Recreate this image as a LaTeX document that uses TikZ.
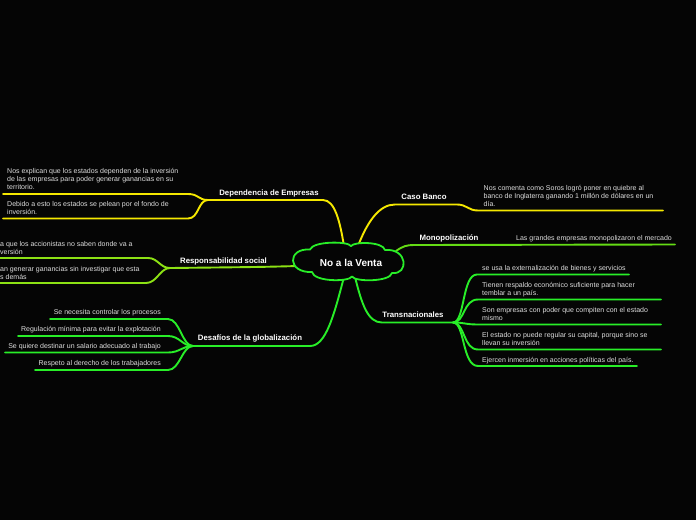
\documentclass[tikz,border=0pt]{standalone}
\usepackage{fontspec}
\setmainfont{Liberation Sans}
\definecolor{bg}{RGB}{5,5,5}
\definecolor{ylw}{RGB}{245,232,0}
\definecolor{grn}{RGB}{40,238,40}
\definecolor{lgrn}{RGB}{140,225,20}
\definecolor{mgrn}{RGB}{100,220,20}
\definecolor{txt}{RGB}{222,222,222}
\tikzset{
  txtnode/.style={text=txt, font=\fontsize{7}{8}\selectfont, inner sep=0pt, align=left},
  lbl/.style={text=white, font=\bfseries\fontsize{7.8}{9}\selectfont, inner sep=0pt, anchor=base},
  yline/.style={draw=ylw, line width=1.9pt, line cap=round},
  gline/.style={draw=grn, line width=1.9pt, line cap=round},
  lgline/.style={draw=lgrn, line width=1.9pt, line cap=round},
  mgline/.style={draw=mgrn, line width=1.9pt, line cap=round},
  cloudline/.style={draw=grn, line width=1.8pt, fill=bg, line join=round},
}
\begin{document}
\begin{tikzpicture}[x=1pt,y=-1pt]
\fill[bg] (0,0) rectangle (696,520);
\useasboundingbox (0,0) rectangle (696,520);

% ---------- coordinates ----------
\coordinate (cDep) at (344,246);
\coordinate (depE) at (323,200);
\coordinate (depJ) at (208,200);
\coordinate (depA1) at (188,194);
\coordinate (depA0) at (3,194);
\coordinate (depB1) at (188,218.5);
\coordinate (depB0) at (3,218.5);

\coordinate (cResp) at (298,266);
\coordinate (respJ) at (170,268);
\coordinate (respA1) at (148,258);
\coordinate (respA0) at (0,258);
\coordinate (respB1) at (146,283);
\coordinate (respB0) at (0,283);

\coordinate (cDes) at (344,277);
\coordinate (desE) at (310,346);
\coordinate (desJ) at (193,346);
\coordinate (desA1) at (168,319); \coordinate (desA0) at (50,319);
\coordinate (desB1) at (168,336); \coordinate (desB0) at (18,336);
\coordinate (desC1) at (168,352.5); \coordinate (desC0) at (5,352.5);
\coordinate (desD1) at (168,370); \coordinate (desD0) at (35,370);

\coordinate (cCaso) at (358,246);
\coordinate (casoE) at (395,204.5);
\coordinate (casoJ) at (457,204.5);
\coordinate (casoA1) at (478,210.5);
\coordinate (casoA0) at (663,210.5);

\coordinate (cMono) at (396,251);
\coordinate (monoE) at (414,245);
\coordinate (monoA0) at (675,244.5);

\coordinate (cTra) at (355,277);
\coordinate (traE) at (382,322.5);
\coordinate (traJ) at (453,322.5);
\coordinate (traA1) at (477,274.5); \coordinate (traA0) at (629,274.5);
\coordinate (traB1) at (478,299.5); \coordinate (traB0) at (661,299.5);
\coordinate (traC1) at (478,324.5); \coordinate (traC0) at (661,324.5);
\coordinate (traD1) at (478,349.5); \coordinate (traD0) at (661,349.5);
\coordinate (traF1) at (478,366); \coordinate (traF0) at (637,366);

% ---------- connectors ----------
\draw[yline] (cDep) .. controls (340,222) and (335,200) .. (depE) -- (depJ);
\draw[yline] (depJ) .. controls (198,200) and (199,194) .. (depA1) -- (depA0);
\draw[yline] (depJ) .. controls (198,200) and (199,218.5) .. (depB1) -- (depB0);

\draw[lgline] (cResp) .. controls (260,267) .. (respJ);
\draw[lgline] (respJ) .. controls (160,268) and (158,258) .. (respA1) -- (respA0);
\draw[lgline] (respJ) .. controls (160,268) and (157,283) .. (respB1) -- (respB0);

\draw[gline] (cDes) .. controls (334,315) and (326,346) .. (desE) -- (desJ);
\draw[gline] (desJ) .. controls (182,346) and (180,319) .. (desA1) -- (desA0);
\draw[gline] (desJ) .. controls (182,346) and (180,336) .. (desB1) -- (desB0);
\draw[gline] (desJ) .. controls (182,346) and (180,352.5) .. (desC1) -- (desC0);
\draw[gline] (desJ) .. controls (182,346) and (180,370) .. (desD1) -- (desD0);

\draw[yline] (cCaso) .. controls (368,220) and (380,204.5) .. (casoE) -- (casoJ)
   .. controls (467,204.5) and (468,210.5) .. (casoA1) -- (casoA0);

\draw[mgline] (cMono) .. controls (403,246) and (407,245) .. (monoE) -- (monoA0);

\draw[gline] (cTra) .. controls (362,305) and (368,322.5) .. (traE) -- (traJ);
\draw[gline] (traJ) .. controls (465,322.5) and (462,274.5) .. (traA1) -- (traA0);
\draw[gline] (traJ) .. controls (465,322.5) and (463,299.5) .. (traB1) -- (traB0);
\draw[gline] (traJ) .. controls (465,322.5) and (465,324.5) .. (traC1) -- (traC0);
\draw[gline] (traJ) .. controls (465,322.5) and (463,349.5) .. (traD1) -- (traD0);
\draw[gline] (traJ) .. controls (465,322.5) and (462,366) .. (traF1) -- (traF0);

% ---------- central cloud ----------
\coordinate (p1) at (310,249.5);
\coordinate (p2) at (351,246);
\coordinate (p3) at (385,250);
\coordinate (p4) at (392,273);
\coordinate (p5) at (352,276.5);
\coordinate (p6) at (312,272);
\draw[cloudline] (p1) .. controls (313,241) and (348,241) .. (p2)
  .. controls (354,241.5) and (383,241.5) .. (p3)
  .. controls (408,248) and (409,275) .. (p4)
  .. controls (390,282) and (355,282) .. (p5)
  .. controls (349,282) and (314,282) .. (p6)
  .. controls (287,273) and (287,248) .. cycle;
\node[text=white, font=\bfseries\fontsize{10}{11}\selectfont, inner sep=0pt, anchor=base] (root) at (351,266) {No a la Venta};

% ---------- labels ----------
\node[lbl] (depL) at (269,195) {Dependencia de Empresas};
\node[lbl] (respL) at (223.5,263) {Responsabilidad social};
\node[lbl] (desL) at (250,340) {Desafíos de la globalización};
\node[lbl] (casoL) at (424,199) {Caso Banco};
\node[lbl] (monoL) at (449,240) {Monopolización};
\node[lbl] (traL) at (413,317) {Transnacionales};

% ---------- texts ----------
\node[txtnode, anchor=north west] (depT1) at (7,168.5) {Nos explican que los estados dependen de la inversión\\de las empresas para poder generar ganancias en su\\territorio.};
\node[txtnode, anchor=north west] (depT2) at (7,201) {Debido a esto los estados se pelean por el fondo de\\inversión.};

\node[txtnode, anchor=north west] (respT1) at (0,241.5) {a que los accionistas no saben donde va a\\versión};
\node[txtnode, anchor=north west] (respT2) at (0,266) {an generar ganancias sin investigar que esta\\s demás};

\node[txtnode, anchor=north east] (desT1) at (161,309.5) {Se necesita controlar los procesos};
\node[txtnode, anchor=north east] (desT2) at (161,326.5) {Regulación mínima para evitar la explotación};
\node[txtnode, anchor=north east] (desT3) at (161,343) {Se quiere destinar un salario adecuado al trabajo};
\node[txtnode, anchor=north east] (desT4) at (161,360.5) {Respeto al derecho de los trabajadores};

\node[txtnode, anchor=north west] (casoT) at (483.5,185.5) {Nos comenta como Soros logró poner en quiebre al\\banco de Inglaterra ganando 1 millón de dólares en un\\día.};
\node[txtnode, anchor=north west] (monoT) at (516,235.5) {Las grandes empresas monopolizaron el mercado};

\node[txtnode, anchor=north west] (traT1) at (482,265.5) {se usa la externalización de bienes y servicios};
\node[txtnode, anchor=north west] (traT2) at (482,282) {Tienen respaldo económico suficiente para hacer\\temblar a un país.};
\node[txtnode, anchor=north west] (traT3) at (482,307) {Son empresas con poder que compiten con el estado\\mismo};
\node[txtnode, anchor=north west] (traT4) at (482,332) {El estado no puede regular su capital, porque sino se\\llevan su inversión};
\node[txtnode, anchor=north west] (traT5) at (482,357) {Ejercen inmersión en acciones políticas del país.};
\end{tikzpicture}
\end{document}
